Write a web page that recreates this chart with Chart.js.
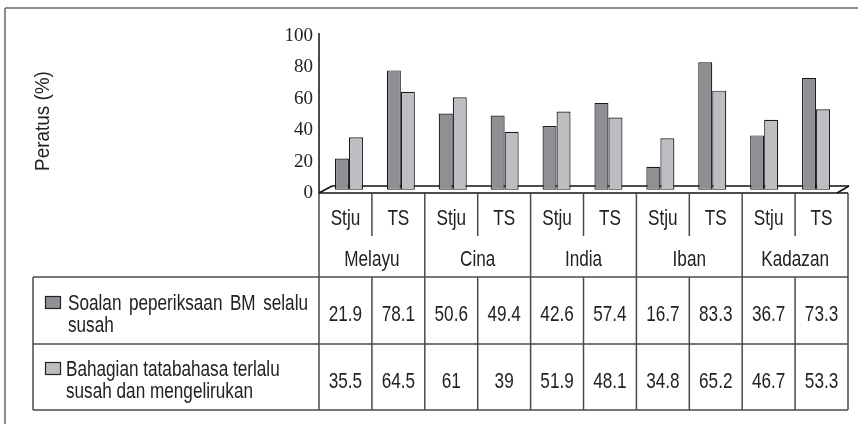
<!DOCTYPE html>
<html>
<head>
<meta charset="utf-8">
<script src="https://cdn.jsdelivr.net/npm/chart.js@4.4.1/dist/chart.umd.min.js"></script>
<style>
  html, body { margin: 0; padding: 0; background: #fff; }
  #wrap { width: 858px; height: 424px; }
</style>
</head>
<body>
<div id="wrap"><canvas id="chart" width="858" height="424"></canvas></div>
<script>
// data
const groups = ['Melayu', 'Cina', 'India', 'Iban', 'Kadazan'];
const subLabels = ['Stju', 'TS'];
const seriesNames = ['Soalan peperiksaan BM selalu susah', 'Bahagian tatabahasa terlalu susah dan mengelirukan'];
const soalan = [21.9, 78.1, 50.6, 49.4, 42.6, 57.4, 16.7, 83.3, 36.7, 73.3];
const bahagian = [35.5, 64.5, 61, 39, 51.9, 48.1, 34.8, 65.2, 46.7, 53.3];
const yTicks = [0, 20, 40, 60, 80, 100];
const yTitle = 'Peratus (%)';

const labels = groups.flatMap(g => subLabels.map(s => s + ' ' + g));
const colors = ['#8f9094', '#bdbec2'];

const SANS = '"Liberation Sans", Arial, sans-serif';
const FS = 22;
const K = 0.78; // narrow face look

function txt(ctx, s, x, y, align, size, k) {
  ctx.save();
  ctx.translate(x, y);
  ctx.scale(k || K, 1);
  ctx.font = size + 'px ' + SANS;
  ctx.textAlign = align || 'left';
  ctx.textBaseline = 'alphabetic';
  ctx.fillText(s, 0, 0);
  ctx.restore();
}

function wrapWords(ctx, s, maxW, size) {
  ctx.font = size + 'px ' + SANS;
  const words = s.split(' ');
  const lines = [];
  let cur = [];
  words.forEach(w => {
    const test = cur.concat(w).join(' ');
    if (cur.length && ctx.measureText(test).width * K > maxW) { lines.push(cur); cur = [w]; }
    else cur.push(w);
  });
  if (cur.length) lines.push(cur);
  return lines;
}

function line(ctx, x1, y1, x2, y2) {
  ctx.beginPath();
  ctx.moveTo(x1, y1);
  ctx.lineTo(x2, y2);
  ctx.stroke();
}

const frame = {
  id: 'frame',
  beforeDatasetsDraw(chart) {
    const ctx = chart.ctx;
    ctx.save();
    ctx.strokeStyle = '#111';
    ctx.lineWidth = 1.5;
    // floor
    line(ctx, 319, 193, 332, 186);
    line(ctx, 332, 186, 849, 186);
    line(ctx, 837, 193, 849, 186);
    ctx.restore();
  },
  afterDraw(chart) {
    const ctx = chart.ctx;
    ctx.save();
    // outer border
    ctx.strokeStyle = '#666';
    ctx.lineWidth = 1.5;
    line(ctx, 5, 8, 858, 8);
    line(ctx, 5, 8, 5, 424);

    // value axis line + floor front
    ctx.strokeStyle = '#111';
    ctx.lineWidth = 1.5;
    line(ctx, 319, 33, 319, 194);
    line(ctx, 319, 193, 848, 193);

    // axis title
    ctx.fillStyle = '#222';
    ctx.save();
    ctx.translate(49, 121);
    ctx.rotate(-Math.PI / 2);
    txt(ctx, yTitle, 0, 0, 'center', 21, 0.9);
    ctx.restore();

    // data table
    const x0 = 319, x1 = 848, lx = 33;
    const cw = (x1 - x0) / labels.length;
    const yH = 193, ySub = 236, yG = 277, yR1 = 344, yR2 = 410;
    ctx.strokeStyle = '#4a4a4a';
    ctx.lineWidth = 1.5;
    line(ctx, lx, yG, x1, yG);
    line(ctx, lx, yR1, x1, yR1);
    line(ctx, lx, yR2, x1, yR2);
    line(ctx, lx, yG, lx, yR2);
    for (let i = 0; i <= labels.length; i++) {
      const x = x0 + i * cw;
      if (i % subLabels.length === 0) line(ctx, x, yH, x, yR2);
      else { line(ctx, x, yH, x, ySub); line(ctx, x, yG, x, yR2); }
    }

    ctx.fillStyle = '#222';
    for (let i = 0; i < labels.length; i++) {
      const cx = x0 + (i + 0.5) * cw;
      txt(ctx, subLabels[i % subLabels.length], cx, 225, 'center', FS);
      txt(ctx, String(soalan[i]), cx, 321, 'center', FS);
      txt(ctx, String(bahagian[i]), cx, 388, 'center', FS);
    }
    groups.forEach((g, j) => {
      const cx = x0 + (j * 2 + 1) * cw;
      txt(ctx, g, cx, 266, 'center', FS);
    });

    // legend cells
    const rows = [{ top: 296, base: 310 }, { top: 362, base: 376 }];
    seriesNames.forEach((name, s) => {
      const r = rows[s];
      ctx.fillStyle = colors[s];
      ctx.strokeStyle = '#222';
      ctx.lineWidth = 1.2;
      ctx.fillRect(45.5, r.top + 0.5, 15, 12);
      ctx.strokeRect(45.5, r.top + 0.5, 15, 12);
      ctx.fillStyle = '#222';
      const lines = wrapWords(ctx, name, 242, FS);
      lines.forEach((words, li) => {
        const y = r.base + li * 22;
        if (s === 0 && li === 0) {
          // justified first line
          ctx.font = FS + 'px ' + SANS;
          const ws = words.map(w => ctx.measureText(w).width * K);
          const sum = ws.reduce((a, b) => a + b, 0);
          const gap = (308 - 68 - sum) / (words.length - 1);
          let x = 68;
          words.forEach((w, wi) => { txt(ctx, w, x, y, 'left', FS); x += ws[wi] + gap; });
        } else {
          txt(ctx, words.join(' '), s === 0 ? 68 : 66, y, 'left', FS);
        }
      });
    });
    ctx.restore();
  }
};

new Chart(document.getElementById('chart'), {
  type: 'bar',
  data: {
    labels: labels,
    datasets: [
      { label: seriesNames[0], data: soalan, backgroundColor: colors[0] },
      { label: seriesNames[1], data: bahagian, backgroundColor: colors[1] }
    ]
  },
  options: {
    responsive: false,
    animation: false,
    events: [],
    layout: { padding: { left: 0, right: 16, top: 36, bottom: 231 } },
    datasets: {
      bar: {
        base: 2,
        borderColor: '#1a1a1a',
        borderWidth: 1.2,
        borderSkipped: false,
        categoryPercentage: 0.54,
        barPercentage: 1.0
      }
    },
    plugins: { legend: { display: false }, tooltip: { enabled: false } },
    scales: {
      x: { display: false },
      y: {
        min: 0,
        max: 100,
        afterBuildTicks: scale => { scale.ticks = yTicks.map(v => ({ value: v })); },
        afterFit: scale => { scale.width = 323; },
        grid: { display: false },
        border: { display: false },
        ticks: {
          padding: 2,
          color: '#222',
          font: { family: '"Liberation Serif", "Times New Roman", serif', size: 19 }
        }
      }
    }
  },
  plugins: [frame]
});
</script>
</body>
</html>
